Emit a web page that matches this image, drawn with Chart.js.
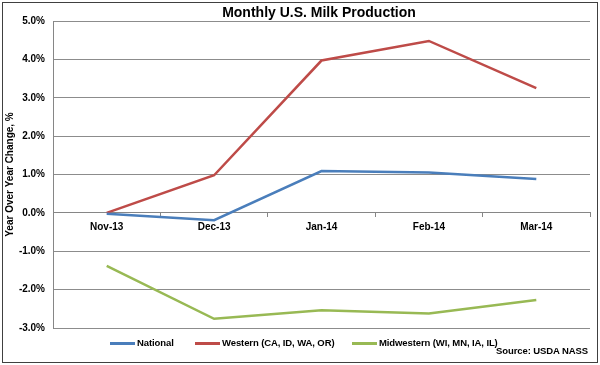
<!DOCTYPE html>
<html>
<head>
<meta charset="utf-8">
<script src="https://cdn.jsdelivr.net/npm/chart.js@4/dist/chart.umd.min.js"></script>
<style>
  body { margin: 0; background: #fff; }
  #wrap { position: relative; width: 600px; height: 365px; font-family: "Liberation Sans", Arial, sans-serif; color: #000; }
  #frame { position: absolute; left: 2px; top: 2px; width: 596px; height: 361px; border: 1px solid #404040; box-sizing: border-box; pointer-events: none; }
  canvas { position: absolute; left: 0; top: 0; }
  #title { position: absolute; top: 4px; left: 19px; width: 600px; text-align: center; font-weight: bold; font-size: 14px; }
  .leg { position: absolute; top: 337px; font-size: 9.5px; font-weight: bold; white-space: nowrap; letter-spacing: -0.1px; }
  .sw { position: absolute; top: 342px; width: 25px; height: 3px; }
  #source { position: absolute; top: 345px; right: 12px; font-size: 9.5px; font-weight: bold; white-space: nowrap; letter-spacing: -0.1px; }
</style>
</head>
<body>
<div id="wrap">
  <canvas id="chartCanvas" width="600" height="365"></canvas>
  <div id="title">Monthly U.S. Milk Production</div>
  <div class="sw" style="left:110px;background:#4A7EBB"></div><div class="leg" style="left:137px">National</div>
  <div class="sw" style="left:195px;background:#BE4B48"></div><div class="leg" style="left:222px">Western (CA, ID, WA, OR)</div>
  <div class="sw" style="left:352px;background:#98B954"></div><div class="leg" style="left:379px">Midwestern (WI, MN, IA, IL)</div>
  <div id="source">Source: USDA NASS</div>
  <div id="frame"></div>
</div>
<script>
const categories = ['Nov-13', 'Dec-13', 'Jan-14', 'Feb-14', 'Mar-14'];
const national = [-0.02, -0.19, 1.09, 1.05, 0.88];
const western = [0.0, 0.98, 3.97, 4.48, 3.25];
const midwestern = [-1.38, -2.76, -2.54, -2.62, -2.27];
const seriesNames = ['National', 'Western (CA, ID, WA, OR)', 'Midwestern (WI, MN, IA, IL)'];
const colors = ['#4A7EBB', '#BE4B48', '#98B954'];

const tickFont = { family: '"Liberation Sans", Arial, sans-serif', size: 10, weight: 'bold' };

const ds = (label, data, color) => ({ label, data, borderColor: color, backgroundColor: color, borderWidth: 2.5, pointRadius: 0, tension: 0, fill: false });

new Chart(document.getElementById('chartCanvas').getContext('2d'), {
  type: 'line',
  data: {
    labels: categories,
    datasets: [ds(seriesNames[0], national, colors[0]), ds(seriesNames[1], western, colors[1]), ds(seriesNames[2], midwestern, colors[2])]
  },
  options: {
    responsive: false,
    animation: false,
    layout: { padding: { top: 21, right: 10, bottom: 37, left: 0 } },
    plugins: { legend: { display: false }, title: { display: false }, tooltip: { enabled: false } },
    scales: {
      x: {
        position: { y: 0 },
        offset: true,
        grid: { drawOnChartArea: false, drawTicks: true, tickLength: 4, offset: true, color: '#868686' },
        border: { display: true, color: '#868686', width: 1 },
        ticks: { font: tickFont, color: '#000', padding: 4, maxRotation: 0 },
        afterFit: s => { s.height = 0; }
      },
      y: {
        min: -3, max: 5,
        grid: { drawTicks: false, color: '#8c8c8c' },
        border: { display: true, color: '#868686' },
        ticks: { stepSize: 1, font: tickFont, color: '#000', padding: 8, callback: v => v.toFixed(1) + '%' },
        title: { display: true, text: 'Year Over Year Change, %', font: tickFont, color: '#000', padding: { top: 4, bottom: 4 } },
        afterFit: s => { s.width = 53; }
      }
    }
  }
});
</script>
</body>
</html>
